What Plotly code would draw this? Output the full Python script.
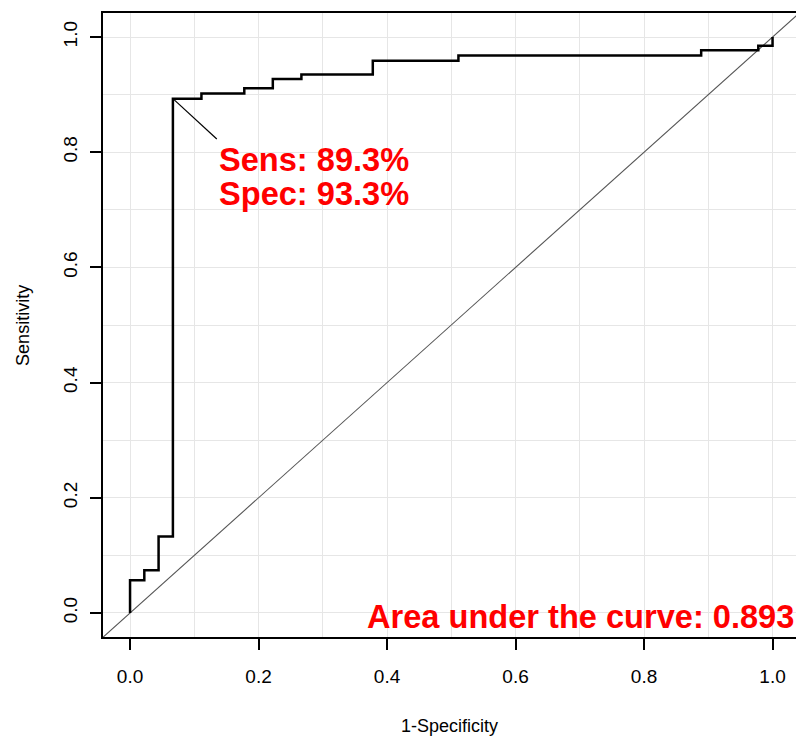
import plotly.graph_objects as go

# ROC curve step points (1-Specificity, Sensitivity), drawn with vertical-then-horizontal steps
fpr = [0.0, 0.0222, 0.0444, 0.0667, 0.1111, 0.1778, 0.2222, 0.2667, 0.3778, 0.5111, 0.8889, 0.9778, 1.0, 1.0]
tpr = [0.0, 0.0568, 0.0742, 0.133, 0.893, 0.902, 0.911, 0.927, 0.935, 0.959, 0.968, 0.977, 0.985, 1.0]

best_point = (0.0667, 0.893)
sens_label = "Sens: 89.3%"
spec_label = "Spec: 93.3%"
auc_label = "Area under the curve: 0.893"

tick_vals = [0.0, 0.2, 0.4, 0.6, 0.8, 1.0]
tick_text = ["0.0", "0.2", "0.4", "0.6", "0.8", "1.0"]

XR = [-0.0421, 1.0365]
YR = [-0.0417, 1.0417]

fig = go.Figure()

# diagonal reference line (abline)
fig.add_trace(go.Scatter(x=[-0.1, 1.1], y=[-0.1, 1.1], mode="lines",
                         line=dict(color="#555555", width=1.1), hoverinfo="skip", showlegend=False))

# ROC curve
fig.add_trace(go.Scatter(x=fpr, y=tpr, mode="lines", line_shape="vh",
                         line=dict(color="black", width=2.5), showlegend=False))

# leader line to the label
fig.add_trace(go.Scatter(x=[best_point[0], 0.135], y=[best_point[1], 0.823], mode="lines",
                         line=dict(color="black", width=1.2), showlegend=False))

font_red = dict(family="Liberation Sans, Arial, sans-serif", size=32.6, color="#ff0000")

fig.add_annotation(x=0.136, y=(612.7 - 160) / 575.4, xref="x", yref="y", text="<b>%s</b>" % sens_label,
                   showarrow=False, xanchor="left", yanchor="middle", font=font_red)
fig.add_annotation(x=0.136, y=(612.7 - 193.3) / 575.4, xref="x", yref="y", text="<b>%s</b>" % spec_label,
                   showarrow=False, xanchor="left", yanchor="middle", font=font_red)
fig.add_annotation(x=(796 - 129.8) / 643.2, y=(612.7 - 616.5) / 575.4, xref="x", yref="y",
                   text="<b>%s</b>" % auc_label, showarrow=False, xanchor="right", yanchor="middle",
                   font=font_red)

axis_font = dict(family="Liberation Sans, Arial, sans-serif", size=18, color="black")
tick_font = dict(family="Liberation Sans, Arial, sans-serif", size=19, color="black")

# axis titles
fig.add_annotation(x=0.5, y=(637 - 726) / 624, xref="paper", yref="paper", yanchor="middle",
                   xanchor="center", text="1-Specificity", showarrow=False, font=axis_font)
fig.add_annotation(x=0.5, y=0.5, xref="x domain", yref="y domain", text="Sensitivity", showarrow=False,
                   font=axis_font, textangle=-90, xanchor="center", yanchor="middle",
                   xshift=(23 - 449.6), yshift=0)

gridc = "#e6e6e6"
fig.update_xaxes(range=XR, tickmode="array", tickvals=tick_vals, ticktext=tick_text,
                 ticks="outside", ticklen=11, tickwidth=1.5, tickcolor="black",
                 showline=True, linecolor="black", linewidth=2, mirror=True,
                 showgrid=True, gridcolor=gridc, gridwidth=1,
                 minor=dict(dtick=0.1, tick0=0, showgrid=True, gridcolor=gridc, gridwidth=1, ticks=""),
                 zeroline=False, tickfont=tick_font, ticklabelstandoff=10)
fig.update_yaxes(range=YR, tickmode="array", tickvals=tick_vals, ticktext=tick_text,
                 ticks="outside", ticklen=11, tickwidth=1.5, tickcolor="black",
                 showline=True, linecolor="black", linewidth=2, mirror=False,
                 showgrid=True, gridcolor=gridc, gridwidth=1,
                 minor=dict(dtick=0.1, tick0=0, showgrid=True, gridcolor=gridc, gridwidth=1, ticks=""),
                 zeroline=False, tickfont=tick_font, tickangle=-90, ticklabelstandoff=5)

fig.update_layout(width=798, height=736, margin=dict(l=103, r=1.5, t=13, b=99),
                  plot_bgcolor="white", paper_bgcolor="white", showlegend=False)

fig.write_html("out.html")
